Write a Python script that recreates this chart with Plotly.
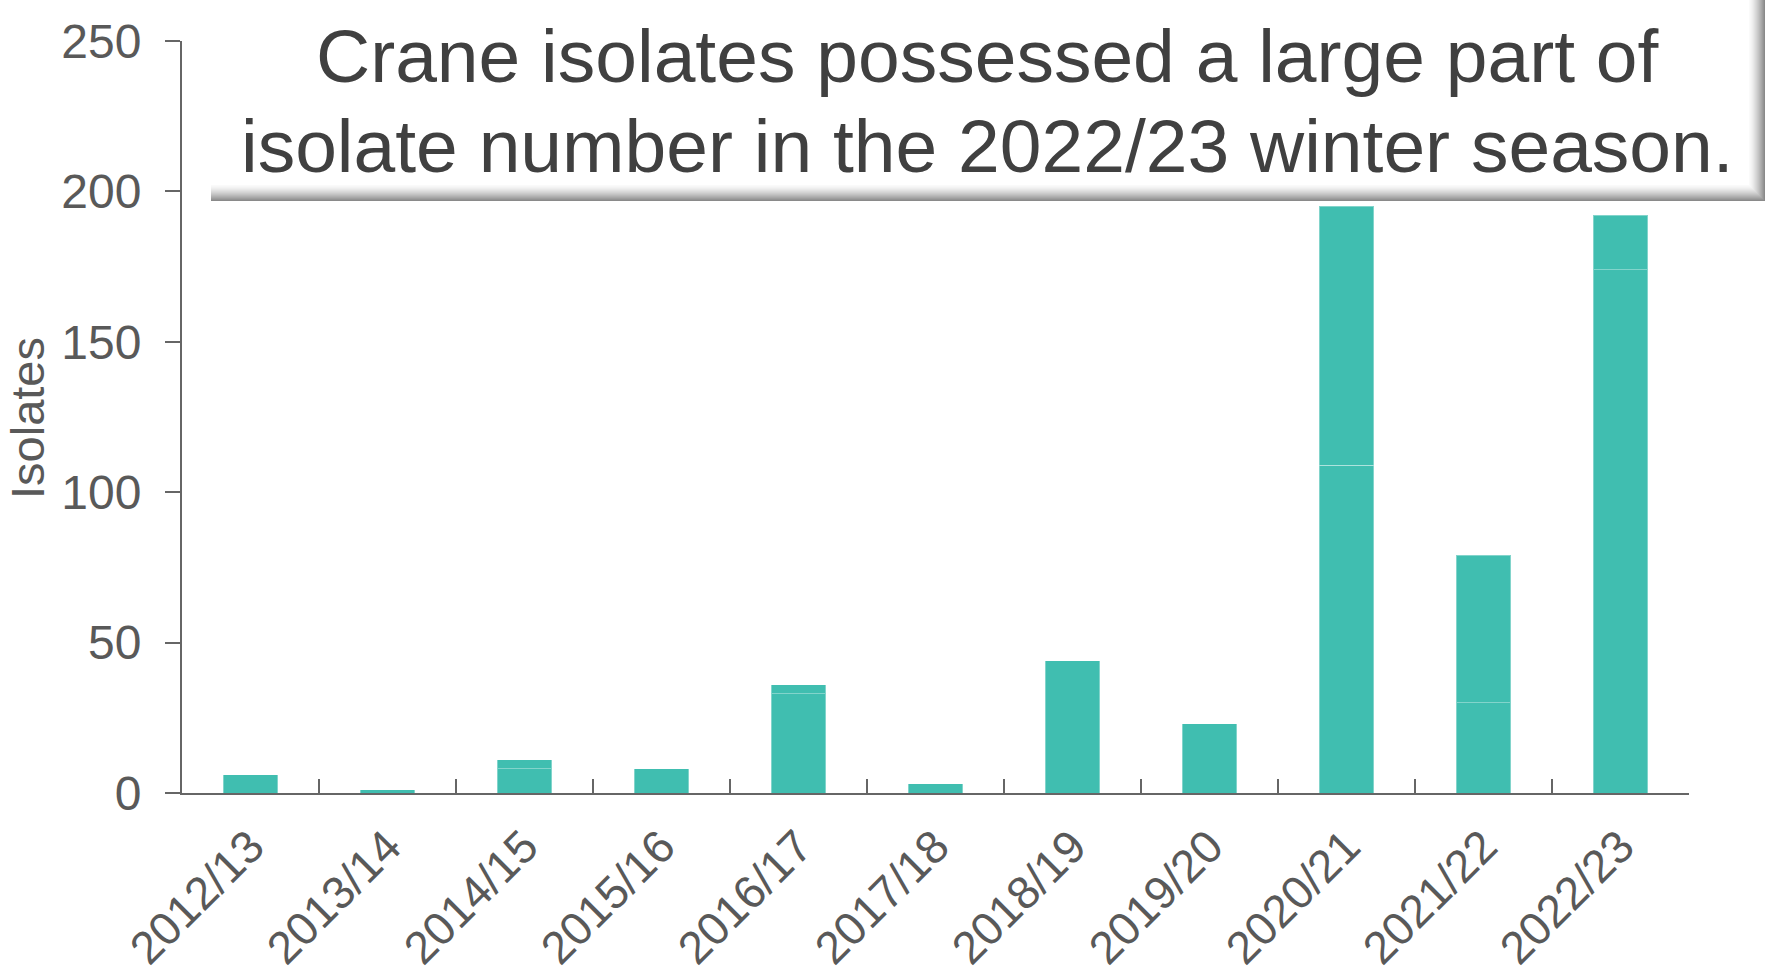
import plotly.graph_objects as go

seasons = ["2012/13", "2013/14", "2014/15", "2015/16", "2016/17", "2017/18",
           "2018/19", "2019/20", "2020/21", "2021/22", "2022/23"]
lower_segment = [6, 1, 8, 8, 33, 3, 44, 23, 109, 30, 174]
upper_segment = [0, 0, 3, 0, 3, 0, 0, 0, 86, 49, 18]
y_ticks = [0, 50, 100, 150, 200, 250]
title_lines = ["Crane isolates possessed a large part of",
               "isolate number in the 2022/23 winter season."]
y_title = "Isolates"

W, H = 1766, 979
L, R, T, B = 182, 77, 41, 186
PW, PH = W - L - R, H - T - B

def px_x(x):
    return (x - L) / PW

def px_y(y):
    return (H - B - y) / PH

FONT = "Arial, 'Liberation Sans', sans-serif"
BAR = "#40BEB0"
EDGE = "rgba(255,255,255,0.35)"

fig = go.Figure()
for vals in (lower_segment, upper_segment):
    fig.add_trace(go.Bar(x=seasons, y=vals, marker=dict(color=BAR, line=dict(color=EDGE, width=1)),
                         showlegend=False))

shapes = []
# title box
bx0, bx1, by0, by1 = 211, 1765, 0, 201
shapes.append(dict(type="rect", xref="paper", yref="paper", x0=px_x(bx0), x1=px_x(bx1),
                   y0=px_y(by1), y1=px_y(by0), fillcolor="white", line=dict(width=0), layer="above"))
# bottom shadow gradient
n = 16
for i in range(n):
    t = i / (n - 1)
    g = int(250 - (250 - 138) * t ** 1.4)
    col = f"rgb({g},{g},{g})"
    ya = by1 - n + i
    shapes.append(dict(type="rect", xref="paper", yref="paper", x0=px_x(bx0), x1=px_x(bx1),
                       y0=px_y(ya + 1), y1=px_y(ya), fillcolor=col, line=dict(width=0), layer="above"))
# right shadow gradient
for i in range(n):
    t = i / (n - 1)
    g = int(250 - (250 - 138) * t ** 1.4)
    col = f"rgb({g},{g},{g})"
    xa = bx1 - n + i
    shapes.append(dict(type="rect", xref="paper", yref="paper", x0=px_x(xa), x1=px_x(xa + 1),
                       y0=px_y(by1 - n + i), y1=px_y(by0), fillcolor=col, line=dict(width=0), layer="above"))

annotations = [
    dict(text=title_lines[0], xref="paper", yref="paper", x=px_x(987), y=px_y(56),
         xanchor="center", yanchor="middle", showarrow=False,
         font=dict(family=FONT, size=75, color="#404040")),
    dict(text=title_lines[1], xref="paper", yref="paper", x=px_x(987), y=px_y(146),
         xanchor="center", yanchor="middle", showarrow=False,
         font=dict(family=FONT, size=75, color="#404040")),
    dict(text=y_title, xref="paper", yref="paper", x=px_x(27), y=px_y(418),
         xanchor="center", yanchor="middle", textangle=-90, showarrow=False,
         font=dict(family=FONT, size=47, color="#595959")),
]

fig.update_layout(
    width=W, height=H, margin=dict(l=L, r=R, t=T, b=B, autoexpand=False),
    paper_bgcolor="white", plot_bgcolor="white",
    barmode="stack", bargap=0.6,
    shapes=shapes, annotations=annotations,
    font=dict(family=FONT, color="#595959"),
)
fig.update_xaxes(
    type="category", showgrid=False, showline=True, linecolor="#666666", linewidth=2,
    ticks="inside", tickson="boundaries", ticklen=14, tickwidth=2, tickcolor="#666666",
    tickangle=-45, tickfont=dict(family=FONT, size=46, color="#595959"),
    ticklabelstandoff=6, automargin=False,
)
fig.update_yaxes(
    range=[0, 250], tickvals=y_ticks, showgrid=False, zeroline=False,
    showline=True, linecolor="#666666", linewidth=2,
    ticks="outside", ticklen=15, tickwidth=2, tickcolor="#666666",
    tickfont=dict(family=FONT, size=48, color="#595959"), ticklabelstandoff=14,
    automargin=False,
)

fig.write_html("out.html")
